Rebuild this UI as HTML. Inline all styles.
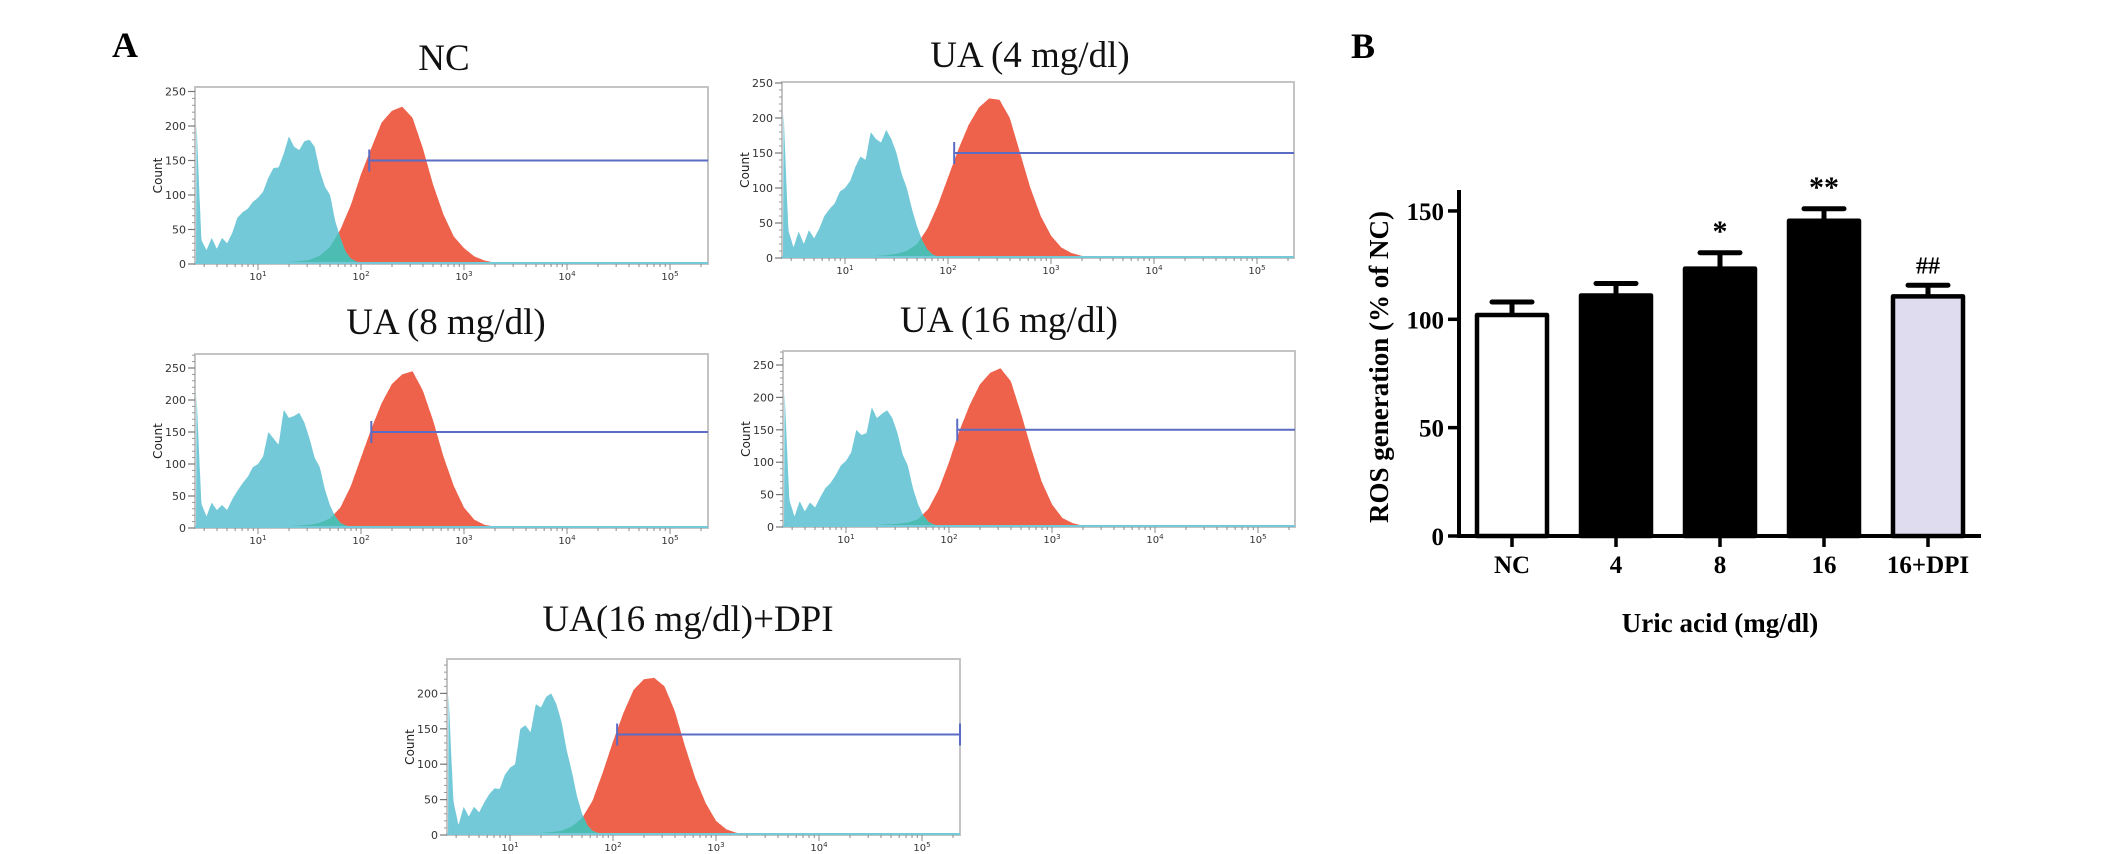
<!DOCTYPE html>
<html><head><meta charset="utf-8"><style>
html,body{margin:0;padding:0;background:#fff;}
svg{display:block;}
</style></head><body>
<svg id="fig" width="2126" height="854" viewBox="0 0 2126 854" xmlns="http://www.w3.org/2000/svg">
<rect width="2126" height="854" fill="#fff"/>
<text x="112" y="57" font-family="Liberation Serif, serif" font-weight="bold" font-size="36">A</text>
<text x="1351" y="58" font-family="Liberation Serif, serif" font-weight="bold" font-size="36">B</text>
<g id="histos"></g>
<g id="barchart"></g>
</svg>
<script>
// ---------- Panel A data (log10 fluorescence bins) ----------
const cyanStart = 0.40, cyanStep = 0.05;
const redStart = 1.0, redStep = 0.1;
const histTitles = ["NC", "UA (4 mg/dl)", "UA (8 mg/dl)", "UA (16 mg/dl)", "UA(16 mg/dl)+DPI"];
const cyanNC   = [215,35,20,38,22,38,30,45,67,75,80,90,96,105,125,139,140,160,185,170,165,178,180,170,135,112,100,62,38,18,8,4,1,0];
const cyanUA4  = [220,40,15,38,20,40,28,42,60,70,78,95,100,110,130,145,140,180,170,165,183,170,150,120,100,70,45,25,12,5,2,1,0,0];
const cyanUA8  = [220,38,18,40,28,36,28,45,58,70,80,95,100,112,150,140,130,185,172,175,180,165,140,110,95,60,35,18,8,4,2,1,0,0];
const cyanUA16 = [220,42,16,40,24,38,30,46,60,68,80,95,102,115,150,142,145,185,168,175,180,168,145,112,95,60,35,18,8,4,2,1,0,0];
const cyanDPI  = [210,48,14,40,26,40,32,46,58,66,65,85,95,100,150,155,145,185,180,195,200,185,160,120,90,55,30,14,6,3,1,0,0,0];
const redNC   = [1,1.5,2,3,4,6,12,25,50,85,130,168,205,222,228,212,168,115,72,40,23,11,5,2,1,0.5,0];
const redUA4  = [1,1.5,2,3,4,6,10,20,42,75,115,155,190,215,228,226,200,150,100,60,32,15,7,3,1,0.5,0];
const redUA8  = [1,1.5,2,3,4,5,8,15,32,65,110,155,195,225,240,245,215,168,112,66,32,13,5,2,1,0.5,0];
const redUA16 = [1,1.5,2,3,4,5,7,12,28,58,100,148,188,220,238,245,225,175,120,70,35,14,6,2,1,0.5,0];
const redDPI  = [1,1.5,2,3,4,6,12,24,48,88,132,172,205,220,222,210,175,125,80,45,20,8,3,1,0.5,0.2,0];
const gateStartLog = [2.08, 2.06, 2.10, 2.08, 2.04];
const gateCount = [150, 150, 150, 150, 142];
const yTickVals = [0,50,100,150,200,250];
const yTickValsDPI = [0,50,100,150,200];
const decadeLabels = ["1","2","3","4","5"];

// ---------- Panel B data ----------
const categories = ["NC","4","8","16","16+DPI"];
const means = [102, 111, 123.4, 145.5, 110.6];
const errs = [6, 5.5, 7.3, 5.5, 5.1];
const annotations = ["", "", "*", "**", "##"];
const barFills = ["#ffffff","#000000","#000000","#000000","#dedcee"];
const bTicks = [0, 50, 100, 150];

const NS = "http://www.w3.org/2000/svg";
function mk(tag, attrs, parent){const e=document.createElementNS(NS,tag);for(const k in attrs)e.setAttribute(k,attrs[k]);if(parent)parent.appendChild(e);return e;}

const panels = [
 {L:195,T:87,R:708,Z:264,y250:91.5,cyan:cyanNC,red:redNC,tx:444,ty:70,ticks:yTickVals,endTick:false},
 {L:782,T:82,R:1294,Z:258,y250:83,cyan:cyanUA4,red:redUA4,tx:1030,ty:67,ticks:yTickVals,endTick:false},
 {L:195,T:354,R:708,Z:528,y250:368,cyan:cyanUA8,red:redUA8,tx:446,ty:334,ticks:yTickVals,endTick:false},
 {L:783,T:351,R:1295,Z:527,y250:365,cyan:cyanUA16,red:redUA16,tx:1009,ty:332,ticks:yTickVals,endTick:false},
 {L:447,T:659,R:960,Z:835,y250:658,cyan:cyanDPI,red:redDPI,tx:688,ty:631,ticks:yTickValsDPI,endTick:true}
];
const hg = document.getElementById("histos");
function interp(arr,start,step,lg){const p=(lg-start)/step;if(p<0||p>arr.length-1)return 0;const i=Math.floor(p),f=p-i;const a=arr[i],b=arr[Math.min(i+1,arr.length-1)];return a+(b-a)*f;}

panels.forEach((p,idx)=>{
  const g = mk("g",{},hg);
  
  
  const k = (p.Z - p.y250)/250;
  const xs = lg => p.L + 63 + (lg-1)*103;
  const ys = c => p.Z - c*k;
  const t = mk("text",{x:p.tx,y:p.ty,"text-anchor":"middle","font-family":"Liberation Serif, serif","font-size":"37",fill:"#111"},g);
  t.textContent = histTitles[idx];
  
  
  const box = mk("rect",{x:p.L,y:p.T,width:p.R-p.L,height:p.Z-p.T,fill:"#fff",stroke:"#c4c4c4","stroke-width":"2"},g);
  
  
  const maxLg = (p.R - p.L - 63)/103 + 1;
  const minLg = 1 - 63/103;
  function areaPath(fn){
    let d = "M"+xs(minLg+0.005).toFixed(1)+","+p.Z;
    for(let lg=minLg+0.005; lg<=3.8; lg+=0.005){ d += " L"+xs(lg).toFixed(1)+","+ys(fn(lg)).toFixed(1); }
    d += " L"+xs(3.8).toFixed(1)+","+p.Z+" Z";
    return d;
  }
  const cy = lg => interp(p.cyan,cyanStart,cyanStep,lg);
  const rd = lg => interp(p.red,redStart,redStep,lg);
  const red = mk("path",{d:areaPath(rd),fill:"#ee614a"},g);
  
  
  const cyan = mk("path",{d:areaPath(cy),fill:"#74c9d8"},g);
  
  
  const ov = mk("path",{d:areaPath(lg=>Math.min(cy(lg),rd(lg))),fill:"#4dbcb2"},g);
  
  
  mk("line",{x1:p.L,y1:p.Z-1,x2:p.R,y2:p.Z-1,stroke:"#74c9d8","stroke-width":"2"},g);
  const gx = xs(gateStartLog[idx]), gy = ys(gateCount[idx]);
  const gate = mk("path",{d:`M${gx},${gy} H${p.R} M${gx},${gy-11} V${gy+11}`+(p.endTick?` M${p.R},${gy-11} V${gy+11}`:""),stroke:"#5b6cc4","stroke-width":"2",fill:"none"},g);
  
  
  for(let c=0;c<=(p.Z-p.T)/k;c+=10){ mk("line",{x1:p.L-3,y1:ys(c),x2:p.L,y2:ys(c),stroke:"#999","stroke-width":"1"},g); }
  p.ticks.forEach(v=>{
    mk("line",{x1:p.L-7,y1:ys(v),x2:p.L,y2:ys(v),stroke:"#777","stroke-width":"1.2"},g);
    const tl = mk("text",{x:p.L-9,y:ys(v)+4,"text-anchor":"end","font-family":"DejaVu Sans, sans-serif","font-size":"11",fill:"#333"},g);
    tl.textContent = v;
    
    
  });
  const cl = mk("text",{x:0,y:0,"text-anchor":"middle","font-family":"DejaVu Sans, sans-serif","font-size":"12",fill:"#222",transform:`translate(${p.L-33},${(p.T+p.Z)/2}) rotate(-90)`},g);
  cl.textContent="Count";
  
  
  for(let d=0; d<6; d++){
    for(let m=1;m<10;m++){
      const lg = d+Math.log10(m);
      if(lg<minLg||lg>maxLg) continue;
      mk("line",{x1:xs(lg),y1:p.Z,x2:xs(lg),y2:p.Z+(m===1?6:3),stroke:"#888","stroke-width":"1"},g);
    }
  }
  decadeLabels.forEach((s,i)=>{
    const lx = mk("text",{x:xs(i+1),y:p.Z+16,"text-anchor":"middle","font-family":"DejaVu Sans, sans-serif","font-size":"10",fill:"#333"},g);
    lx.innerHTML = `10<tspan dy="-4" font-size="7">${s}</tspan>`;
    
    
  });
});

// ---------- Panel B ----------
const bg = document.getElementById("barchart");
const zeroY = 536, pxPerUnit = 2.167, axisX = 1459, x0 = 1512, dx = 104, bw = 70;
const yB = v => zeroY - v*pxPerUnit;
const xB = i => x0 + i*dx;
categories.forEach((c,i)=>{
  const top = yB(means[i]), et = yB(means[i]+errs[i]);
  const eb = mk("path",{d:`M${xB(i)},${top} V${et} M${xB(i)-20},${et} H${xB(i)+20}`,stroke:"#000","stroke-width":"5",fill:"none","stroke-linecap":"round"},bg);
  
  
  const r = mk("rect",{x:xB(i)-bw/2,y:top,width:bw,height:zeroY-top,fill:barFills[i],stroke:"#000","stroke-width":"4.5","stroke-linejoin":"round"},bg);
  
  
  mk("line",{x1:xB(i),y1:zeroY,x2:xB(i),y2:zeroY+11,stroke:"#000","stroke-width":"3.5"},bg);
  const lt = mk("text",{x:xB(i),y:zeroY+37,"text-anchor":"middle","font-family":"Liberation Serif, serif","font-weight":"bold","font-size":"25"},bg);
  lt.textContent = c;
  
  
  if(annotations[i]){
    const star = annotations[i].indexOf('*')>=0;
    const at = mk("text",{x:xB(i),y:et-12,"text-anchor":"middle","font-family":"Liberation Serif, serif","font-weight":"bold","font-size":star?"30":"24"},bg);
    at.textContent = annotations[i];
    
    
  }
});
const ax = mk("path",{d:`M${axisX},190 V${zeroY} H1981`,stroke:"#000","stroke-width":"4",fill:"none"},bg);


bTicks.forEach(v=>{
  mk("line",{x1:axisX-11,y1:yB(v),x2:axisX,y2:yB(v),stroke:"#000","stroke-width":"3.5"},bg);
  const t = mk("text",{x:axisX-15,y:yB(v)+9,"text-anchor":"end","font-family":"Liberation Serif, serif","font-weight":"bold","font-size":"25"},bg);
  t.textContent = v;
  
  
});
const yt = mk("text",{x:0,y:0,"text-anchor":"middle","font-family":"Liberation Serif, serif","font-weight":"bold","font-size":"27",transform:"translate(1388,367) rotate(-90)"},bg);
yt.textContent = "ROS generation (% of NC)";


const xt = mk("text",{x:1720,y:632,"text-anchor":"middle","font-family":"Liberation Serif, serif","font-weight":"bold","font-size":"27"},bg);
xt.textContent = "Uric acid (mg/dl)";


</script>
</body></html>
